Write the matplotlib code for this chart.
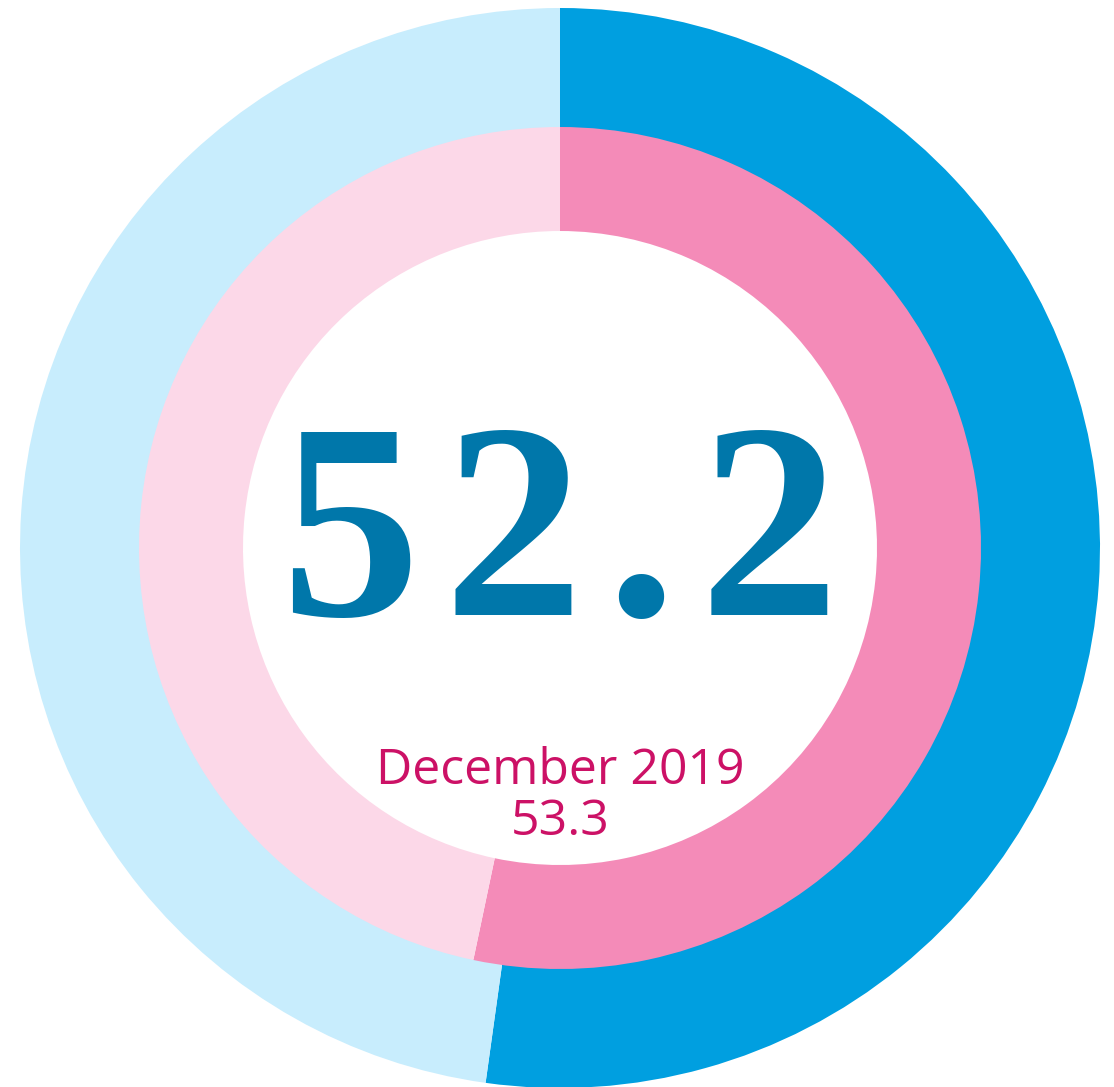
import matplotlib.pyplot as plt

# values (percent)
outer_values = [52.2, 100 - 52.2]
inner_values = [53.3, 100 - 53.3]
outer_colors = ["#009FE0", "#C8EDFD"]
inner_colors = ["#F48BB8", "#FCD8E8"]
main_label = "52.2"
period_label = "December 2019"
period_value = "53.3"

W, H = 1114, 1087
fig = plt.figure(figsize=(W / 100, H / 100), dpi=100)
ax = fig.add_axes([0, 0, 1, 1])

cx, cy = 560, H - 548

ax.pie(outer_values, colors=outer_colors, radius=540, center=(cx, cy),
       startangle=90, counterclock=False,
       wedgeprops=dict(width=120, linewidth=0))
ax.pie(inner_values, colors=inner_colors, radius=421, center=(cx, cy),
       startangle=90, counterclock=False,
       wedgeprops=dict(width=104, linewidth=0))

# big number, a touch of extra spacing between glyphs
ax.text(cx, H - 615, "\u200a".join(main_label), ha="center", va="baseline",
        fontsize=201, fontweight="bold", family=["Liberation Serif", "DejaVu Serif"],
        color="#0077AA")
ax.text(cx, H - 784, period_label, ha="center", va="baseline",
        fontsize=36, family="Open Sans", color="#CC1166")
ax.text(cx, H - 835, period_value, ha="center", va="baseline",
        fontsize=36, family="Open Sans", color="#CC1166")

ax.set_xlim(0, W)
ax.set_ylim(0, H)
ax.set_aspect("equal")
ax.axis("off")
fig.savefig("out.png", dpi=100)
